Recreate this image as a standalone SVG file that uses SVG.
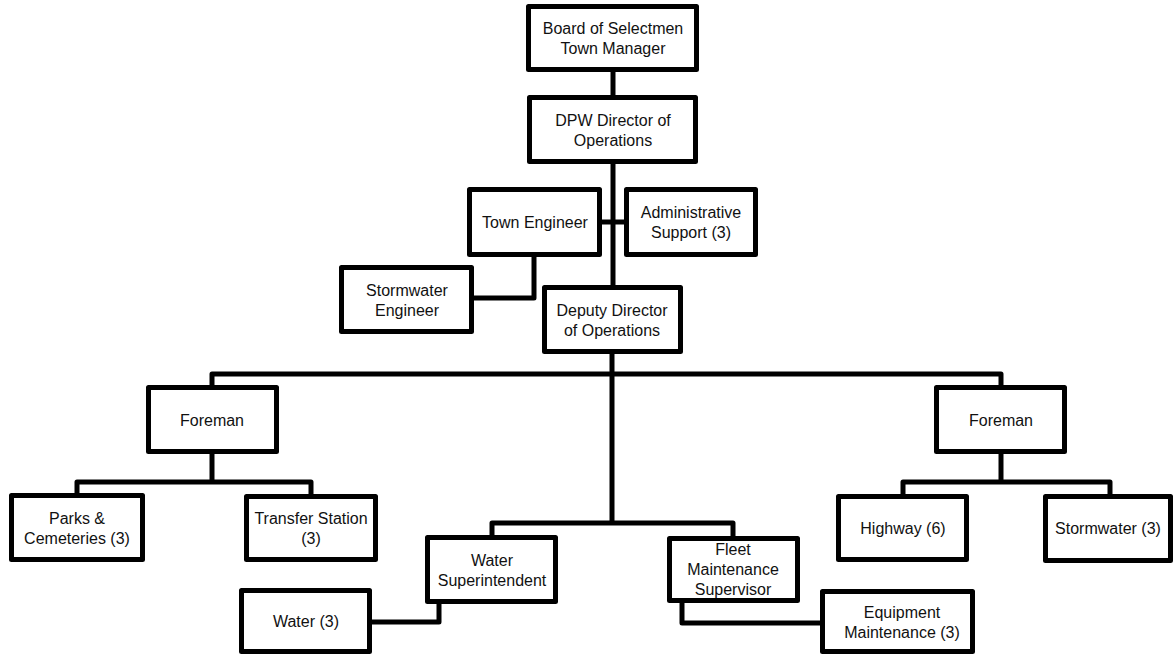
<svg xmlns="http://www.w3.org/2000/svg" width="1174" height="655" viewBox="0 0 1174 655">
<style>
.box{fill:#fff;stroke:#000;stroke-width:5;stroke-linejoin:round}
.ln{fill:none;stroke:#000;stroke-width:5;stroke-linejoin:round}
text{font-family:"Liberation Sans",Arial,sans-serif;font-size:16px;fill:#111;text-anchor:middle}
</style>
<rect width="1174" height="655" fill="#fff"/>
<g id="connectors">
<path class="ln" d="M613,72 V95"/>
<path class="ln" d="M613,164 V285"/>
<path class="ln" d="M602,222 H624"/>
<path class="ln" d="M534,257 V298 H474"/>
<path class="ln" d="M612,354 V523"/>
<path class="ln" d="M212,385 V374 H1001 V385"/>
<path class="ln" d="M212,454 V482"/>
<path class="ln" d="M77,494 V482 H311 V494"/>
<path class="ln" d="M1001,454 V482"/>
<path class="ln" d="M903,494 V482 H1110 V494"/>
<path class="ln" d="M492,535 V523 H733 V536"/>
<path class="ln" d="M439,604 V622 H372"/>
<path class="ln" d="M682,603 V623 H821"/>
</g>
<g id="board"><rect class="box" x="528.5" y="6.5" width="168" height="63"/><text x="613" y="33.5">Board of Selectmen</text><text x="613" y="53.5">Town Manager</text></g>
<g id="dpw"><rect class="box" x="529.5" y="97.5" width="166" height="64"/><text x="613" y="125.5">DPW Director of</text><text x="613" y="145.5">Operations</text></g>
<g id="town-engineer"><rect class="box" x="469.5" y="189.5" width="130" height="65"/><text x="535" y="227.5">Town Engineer</text></g>
<g id="admin"><rect class="box" x="626.5" y="189.5" width="129" height="65"/><text x="691" y="217.5">Administrative</text><text x="691" y="237.5">Support (3)</text></g>
<g id="stormwater-engineer"><rect class="box" x="341.5" y="267.5" width="130" height="64"/><text x="407" y="295.5">Stormwater</text><text x="407" y="315.5">Engineer</text></g>
<g id="deputy"><rect class="box" x="544.5" y="287.5" width="136" height="64"/><text x="612" y="315.5">Deputy Director</text><text x="612" y="335.5">of Operations</text></g>
<g id="foreman-left"><rect class="box" x="148.5" y="387.5" width="128" height="64"/><text x="212" y="425.5">Foreman</text></g>
<g id="foreman-right"><rect class="box" x="936.5" y="387.5" width="128" height="64"/><text x="1001" y="425.5">Foreman</text></g>
<g id="parks"><rect class="box" x="11.5" y="495.5" width="131" height="64"/><text x="77" y="523.5">Parks &amp;</text><text x="77" y="543.5">Cemeteries (3)</text></g>
<g id="transfer"><rect class="box" x="246.5" y="496.5" width="129" height="63"/><text x="311" y="523.5">Transfer Station</text><text x="311" y="543.5">(3)</text></g>
<g id="highway"><rect class="box" x="838.5" y="496.5" width="128" height="63"/><text x="903" y="533.5">Highway (6)</text></g>
<g id="stormwater"><rect class="box" x="1045.5" y="496.5" width="125" height="64"/><text x="1108" y="533.5">Stormwater (3)</text></g>
<g id="water-super"><rect class="box" x="427.5" y="537.5" width="128" height="64"/><text x="492" y="565.5">Water</text><text x="492" y="585.5">Superintendent</text></g>
<g id="fleet"><rect class="box" x="669.5" y="538.5" width="128" height="62"/><text x="733" y="555">Fleet</text><text x="733" y="575">Maintenance</text><text x="733" y="595">Supervisor</text></g>
<g id="water"><rect class="box" x="241.5" y="590.5" width="128" height="61"/><text x="306" y="626.5">Water (3)</text></g>
<g id="equipment"><rect class="box" x="822.5" y="591.5" width="150" height="60"/><text x="902" y="618">Equipment</text><text x="902" y="638">Maintenance (3)</text></g>
</svg>
